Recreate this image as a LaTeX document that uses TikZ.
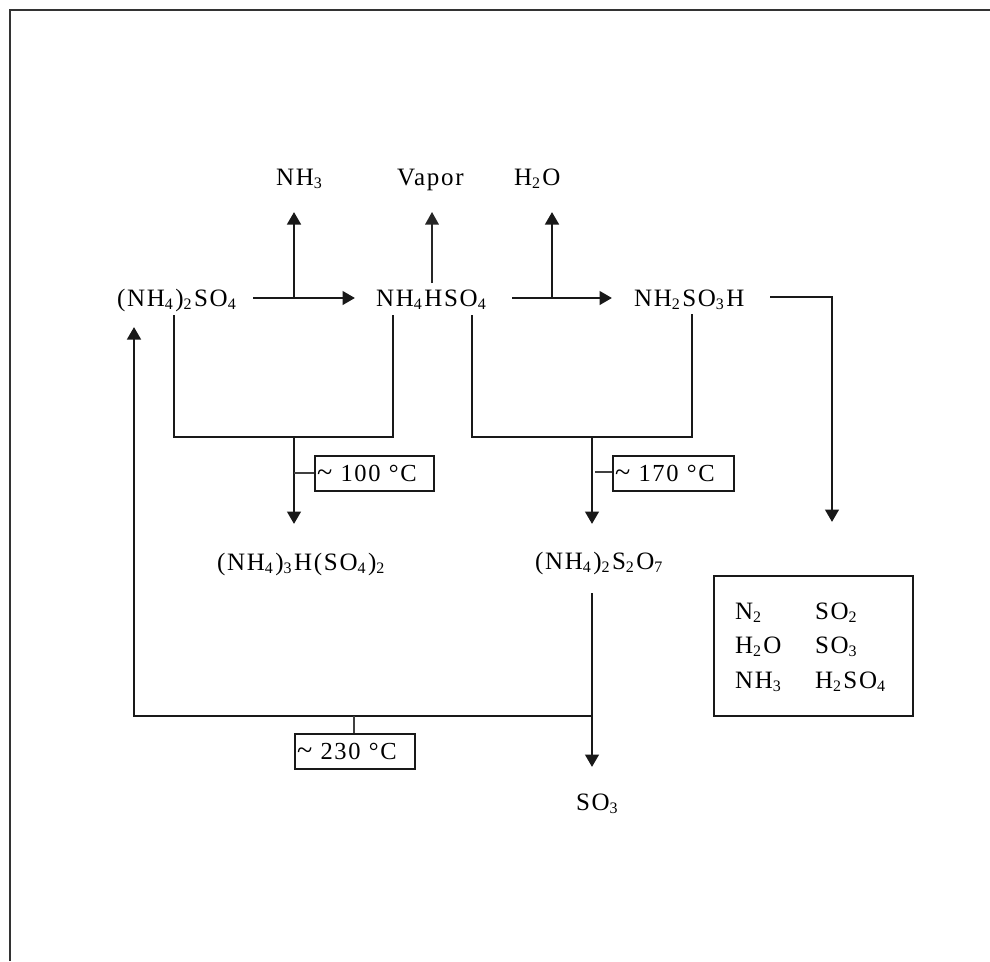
\documentclass[tikz,border=0pt]{standalone}
\usepackage{fontspec}
\setmainfont[LetterSpace=7]{Liberation Serif}
\usetikzlibrary{arrows.meta}
\newcommand{\chsub}[1]{\raisebox{-3.5pt}{\fontsize{16}{16}\selectfont #1}\kern2.4pt}
\newcommand{\tildemark}{\scalebox{1.15}{\textasciitilde}}
\tikzset{
  x=1pt,y=-1pt,
  chem/.style={anchor=base west,inner sep=0pt,outer sep=0pt,font=\fontsize{25}{27}\selectfont},
  line/.style={draw=black!90,line width=2.9pt},
  thinline/.style={draw=black!75,line width=1.1pt},
  flow/.style={line,-{Triangle[width=13.5pt,length=12.5pt]}},
  thinflow/.style={draw=black!85,line width=1.6pt,-{Triangle[width=13.5pt,length=12.5pt]}},
  tempbox/.style={draw=black!90,line width=2.2pt,anchor=north west,minimum height=35pt,inner xsep=1pt,inner ysep=0pt,align=left,font=\fontsize{24.5}{27}\selectfont},
  listbox/.style={draw=black!90,line width=2.2pt,anchor=north west,minimum width=199pt,minimum height=140pt},
  frameline/.style={draw=black!80,line width=2.2pt}
}
\begin{document}
\begin{tikzpicture}
\useasboundingbox (0,0) rectangle (990,961);
\fill[white] (0,0) rectangle (990,961);
% frame
\coordinate (fa) at (10,961); \coordinate (fb) at (10,10); \coordinate (fc) at (990,10);
\draw[frameline] (fa) -- (fb) -- (fc);
% species
\node[chem] (nh3) at (276,185) {NH\chsub{3}};
\node[chem] (vapor) at (397,185) {Vapor};
\node[chem] (h2o) at (514,185) {H\chsub{2}O};
\node[chem] (as) at (117,306) {(NH\chsub{4})\chsub{2}SO\chsub{4}};
\node[chem] (abs) at (376,306) {NH\chsub{4}HSO\chsub{4}};
\node[chem] (sa) at (634,306) {NH\chsub{2}SO\chsub{3}H};
\node[chem] (tri) at (217,570) {(NH\chsub{4})\chsub{3}H(SO\chsub{4})\chsub{2}};
\node[chem] (pyro) at (535,569) {(NH\chsub{4})\chsub{2}S\chsub{2}O\chsub{7}};
\node[chem] (so3) at (576,810) {SO\chsub{3}};
% list box
\node[listbox] (list) at (713,575) {};
\node[chem] (l1a) at (735,619) {N\chsub{2}};
\node[chem] (l1b) at (815,619) {SO\chsub{2}};
\node[chem] (l2a) at (735,653) {H\chsub{2}O};
\node[chem] (l2b) at (815,653) {SO\chsub{3}};
\node[chem] (l3a) at (735,688) {NH\chsub{3}};
\node[chem] (l3b) at (815,688) {H\chsub{2}SO\chsub{4}};
% temperature boxes
\node[tempbox,minimum width=119pt,text width=115pt] (t100) at (314,455) {\tildemark{} 100 °C};
\node[tempbox,minimum width=121pt,text width=117pt] (t170) at (612,455) {\tildemark{} 170 °C};
\node[tempbox,minimum width=120pt,text width=116pt] (t230) at (294,733) {\tildemark{}\,\,230 °C};
% coordinates
\coordinate (a1s) at (253,298); \coordinate (a1e) at (355,298);
\coordinate (a1m) at (294,298); \coordinate (a1t) at (294,212);
\coordinate (vs) at (432,283); \coordinate (vt) at (432,212);
\coordinate (a2s) at (512,298); \coordinate (a2e) at (612,298);
\coordinate (a2m) at (552,298); \coordinate (a2t) at (552,212);
\coordinate (ra) at (770,297); \coordinate (rb) at (832,297); \coordinate (rc) at (832,522);
\coordinate (b1a) at (174,315); \coordinate (b1b) at (174,437); \coordinate (b1c) at (393,437); \coordinate (b1d) at (393,315);
\coordinate (b1m) at (294,437); \coordinate (b1t) at (294,524); \coordinate (b1l) at (294,473);
\coordinate (b2a) at (472,315); \coordinate (b2b) at (472,437); \coordinate (b2c) at (692,437); \coordinate (b2d) at (692,314);
\coordinate (b2m) at (592,437); \coordinate (b2t) at (592,524); \coordinate (b2l) at (595,472);
\coordinate (ca) at (592,593); \coordinate (cb) at (592,716); \coordinate (cc) at (134,716); \coordinate (cd) at (134,327);
\coordinate (ce) at (592,767); \coordinate (cl) at (354,716);
% connectors
\draw[flow] (a1s) -- (a1e);
\draw[flow] (a1m) -- (a1t);
\draw[thinflow] (vs) -- (vt);
\draw[flow] (a2s) -- (a2e);
\draw[flow] (a2m) -- (a2t);
\draw[flow] (ra) -- (rb) -- (rc);
\draw[line] (b1a) -- (b1b) -- (b1c) -- (b1d);
\draw[flow] (b1m) -- (b1t);
\draw[thinline] (b1l) -- (b1l -| t100.west);
\draw[line] (b2a) -- (b2b) -- (b2c) -- (b2d);
\draw[flow] (b2m) -- (b2t);
\draw[thinline] (b2l) -- (b2l -| t170.west);
\draw[flow] (ca) -- (cb) -- (cc) -- (cd);
\draw[flow] (cb) -- (ce);
\draw[thinline] (cl) -- (cl |- t230.north);
\end{tikzpicture}
\end{document}
